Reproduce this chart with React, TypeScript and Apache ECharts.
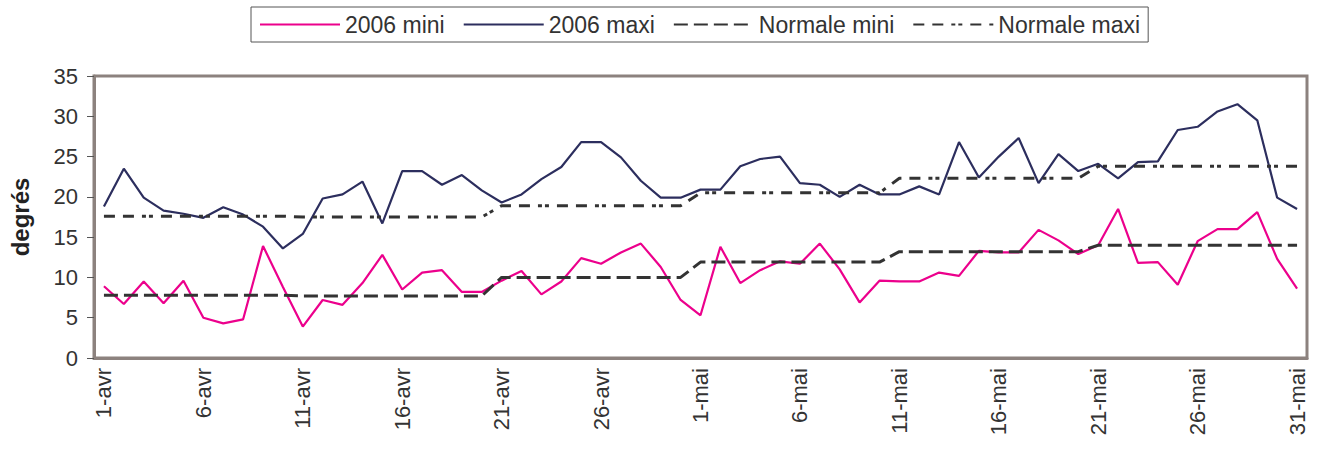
import React, { useEffect, useRef } from "react";
import * as echarts from "echarts";

// Day labels, 1 April to 31 May
const days: string[] = [];
for (let d = 1; d <= 30; d++) days.push(`${d}-avr`);
for (let d = 1; d <= 31; d++) days.push(`${d}-mai`);

const mini2006 = [
  8.9, 6.7, 9.5, 6.8, 9.6, 5.0, 4.3, 4.8, 13.9, 8.8,
  3.9, 7.2, 6.6, 9.3, 12.8, 8.5, 10.6, 10.9, 8.2, 8.2,
  9.6, 10.8, 7.9, 9.5, 12.4, 11.7, 13.1, 14.2, 11.3, 7.2,
  5.3, 13.8, 9.3, 10.9, 12.0, 11.7, 14.2, 11.0, 6.9, 9.6,
  9.5, 9.5, 10.6, 10.2, 13.3, 13.1, 13.1, 15.9, 14.6, 12.9,
  14.0, 18.5, 11.8, 11.9, 9.1, 14.5, 16.0, 16.0, 18.1, 12.3, 8.6,
];

const maxi2006 = [
  18.8, 23.5, 19.9, 18.3, 17.9, 17.4, 18.7, 17.8, 16.3, 13.6,
  15.4, 19.8, 20.3, 21.9, 16.7, 23.2, 23.2, 21.5, 22.7, 20.8,
  19.3, 20.3, 22.2, 23.7, 26.8, 26.8, 24.9, 22.0, 19.9, 19.9,
  20.9, 20.9, 23.8, 24.7, 25.0, 21.7, 21.5, 20.0, 21.5, 20.3,
  20.3, 21.3, 20.3, 26.8, 22.4, 25.0, 27.3, 21.7, 25.3, 23.2,
  24.1, 22.3, 24.3, 24.4, 28.3, 28.7, 30.6, 31.5, 29.5, 19.9, 18.5,
];

// Ten-day climate normals
const normaleMini = [
  7.8, 7.8, 7.8, 7.8, 7.8, 7.8, 7.8, 7.8, 7.8, 7.8,
  7.7, 7.7, 7.7, 7.7, 7.7, 7.7, 7.7, 7.7, 7.7, 7.7,
  10.0, 10.0, 10.0, 10.0, 10.0, 10.0, 10.0, 10.0, 10.0, 10.0,
  11.9, 11.9, 11.9, 11.9, 11.9, 11.9, 11.9, 11.9, 11.9, 11.9,
  13.2, 13.2, 13.2, 13.2, 13.2, 13.2, 13.2, 13.2, 13.2, 13.2,
  14.0, 14.0, 14.0, 14.0, 14.0, 14.0, 14.0, 14.0, 14.0, 14.0, 14.0,
];

const normaleMaxi = [
  17.6, 17.6, 17.6, 17.6, 17.6, 17.6, 17.6, 17.6, 17.6, 17.6,
  17.5, 17.5, 17.5, 17.5, 17.5, 17.5, 17.5, 17.5, 17.5, 17.5,
  18.9, 18.9, 18.9, 18.9, 18.9, 18.9, 18.9, 18.9, 18.9, 18.9,
  20.5, 20.5, 20.5, 20.5, 20.5, 20.5, 20.5, 20.5, 20.5, 20.5,
  22.3, 22.3, 22.3, 22.3, 22.3, 22.3, 22.3, 22.3, 22.3, 22.3,
  23.8, 23.8, 23.8, 23.8, 23.8, 23.8, 23.8, 23.8, 23.8, 23.8, 23.8,
];

const FONT = "Liberation Sans, Arial, sans-serif";
const FRAME = "#8c827e";

export default function App() {
  const ref = useRef<HTMLDivElement>(null);

  useEffect(() => {
    if (!ref.current) return;
    const chart = echarts.init(ref.current, undefined, { renderer: "svg" });
    chart.setOption({
      animation: false,
      backgroundColor: "#ffffff",
      textStyle: { fontFamily: FONT },
      legend: {
        left: 251,
        top: 7,
        padding: [6, 8],
        borderColor: "#555555",
        borderWidth: 1,
        itemWidth: 80,
        itemHeight: 14,
        itemGap: 18,
        // line-only keys, no marker dot
        itemStyle: { opacity: 0 },
        textStyle: { fontSize: 23, color: "#333333", fontFamily: FONT },
        data: ["2006 mini", "2006 maxi", "Normale mini", "Normale maxi"],
      },
      grid: {
        left: 90,
        right: 12,
        top: 76,
        bottom: 97,
        show: true,
        borderColor: FRAME,
        borderWidth: 3,
      },
      xAxis: {
        type: "category",
        data: days,
        boundaryGap: true,
        axisLine: { lineStyle: { color: FRAME, width: 3 } },
        axisTick: { interval: 0, length: 7, lineStyle: { color: "#666666", width: 1 } },
        axisLabel: {
          interval: 4,
          rotate: 90,
          fontSize: 22,
          color: "#333333",
          margin: 10,
          fontFamily: FONT,
        },
        splitLine: { show: false },
      },
      yAxis: {
        type: "value",
        min: 0,
        max: 35,
        interval: 5,
        name: "degrés",
        nameLocation: "middle",
        nameGap: 62,
        nameTextStyle: { fontSize: 24, fontWeight: "bold", color: "#222222", fontFamily: FONT },
        axisLine: { show: true, lineStyle: { color: FRAME, width: 3 } },
        axisTick: { show: true, length: 7, lineStyle: { color: "#555555", width: 1 } },
        axisLabel: { fontSize: 22, color: "#333333", margin: 16, fontFamily: FONT },
        splitLine: { show: false },
      },
      series: [
        {
          name: "2006 mini",
          type: "line",
          data: mini2006,
          symbol: "none",
          lineStyle: { color: "#ec008c", width: 2.2 },
          itemStyle: { color: "#ec008c" },
        },
        {
          name: "2006 maxi",
          type: "line",
          data: maxi2006,
          symbol: "none",
          lineStyle: { color: "#2c2e5e", width: 2.2 },
          itemStyle: { color: "#2c2e5e" },
        },
        {
          name: "Normale mini",
          type: "line",
          data: normaleMini,
          symbol: "none",
          lineStyle: { color: "#333333", width: 3, type: [14, 6] },
          itemStyle: { color: "#333333" },
        },
        {
          name: "Normale maxi",
          type: "line",
          data: normaleMaxi,
          symbol: "none",
          lineStyle: { color: "#333333", width: 3, type: [11, 8, 11, 8, 4, 3, 4, 8] },
          itemStyle: { color: "#333333" },
        },
      ],
    });
    return () => chart.dispose();
  }, []);

  return (
    <div
      ref={ref}
      style={{ position: "absolute", left: 0, top: 0, width: 1319, height: 455 }}
    />
  );
}
